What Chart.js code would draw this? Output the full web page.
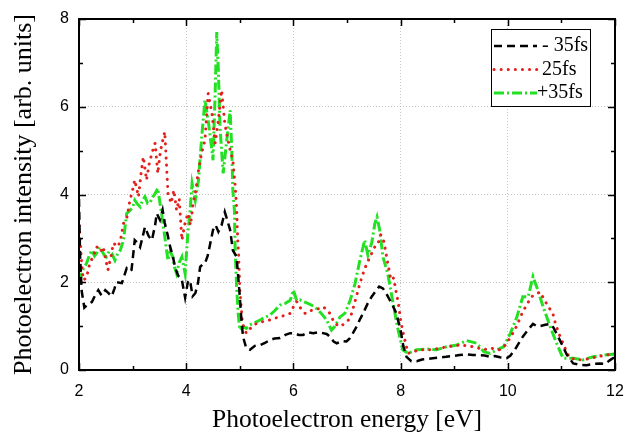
<!DOCTYPE html>
<html>
<head>
<meta charset="utf-8">
<script src="https://cdn.jsdelivr.net/npm/chart.js@4"></script>
<style>
  html, body { margin: 0; padding: 0; background: #fff; }
  #wrap { width: 625px; height: 436px; }
</style>
</head>
<body>
<div id="wrap"><canvas id="plot" width="625" height="436"></canvas></div>
<script>
// ---------- data ----------
const seriesNames = ['- 35fs', '25fs', '+35fs'];

const blackE = [2.0, 2.02, 2.05, 2.1, 2.17, 2.24, 2.3, 2.36, 2.42, 2.49, 2.55, 2.61, 2.66, 2.7, 2.8, 2.89, 2.95, 2.98, 3.04, 3.09, 3.14, 3.2, 3.23, 3.3, 3.36, 3.42, 3.45, 3.51, 3.56, 3.6, 3.65, 3.7, 3.75, 3.79, 3.85, 3.92, 3.98, 4.03, 4.07, 4.12, 4.17, 4.22, 4.26, 4.3, 4.35, 4.4, 4.45, 4.5, 4.55, 4.6, 4.66, 4.72, 4.77, 4.82, 4.87, 4.94, 4.97, 5.0, 5.03, 5.06, 5.12, 5.19, 5.28, 5.38, 5.47, 5.56, 5.65, 5.75, 5.85, 5.94, 6.0, 6.1, 6.18, 6.28, 6.37, 6.46, 6.55, 6.62, 6.68, 6.75, 6.81, 6.9, 6.99, 7.05, 7.11, 7.18, 7.24, 7.3, 7.38, 7.46, 7.55, 7.6, 7.67, 7.73, 7.8, 7.86, 7.92, 8.0, 8.05, 8.11, 8.2, 8.3, 8.4, 8.49, 8.6, 8.74, 8.85, 8.98, 9.1, 9.23, 9.35, 9.48, 9.57, 9.67, 9.76, 9.85, 9.98, 10.05, 10.13, 10.2, 10.28, 10.38, 10.47, 10.54, 10.6, 10.7, 10.79, 10.85, 10.91, 10.97, 11.03, 11.1, 11.22, 11.35, 11.47, 11.6, 11.72, 11.82, 11.9, 12.0];
const blackI = [3.9, 2.6, 1.8, 1.42, 1.5, 1.55, 1.7, 1.82, 1.7, 1.82, 1.75, 1.68, 1.85, 2.0, 1.98, 2.32, 2.25, 2.28, 2.96, 2.9, 2.8, 3.1, 3.26, 3.05, 2.96, 3.3, 3.57, 3.42, 3.65, 3.35, 3.1, 2.81, 2.6, 2.35, 2.15, 2.05, 1.65, 2.0, 2.05, 1.68, 1.75, 1.98, 2.35, 2.4, 2.43, 2.6, 2.89, 3.19, 3.3, 3.15, 3.3, 3.6, 3.4, 3.19, 2.73, 2.58, 2.13, 1.67, 1.14, 0.76, 0.5, 0.46, 0.55, 0.57, 0.62, 0.68, 0.72, 0.73, 0.8, 0.84, 0.84, 0.8, 0.8, 0.86, 0.84, 0.86, 0.84, 0.82, 0.76, 0.65, 0.61, 0.66, 0.65, 0.72, 0.84, 0.99, 1.15, 1.29, 1.5, 1.67, 1.82, 1.9, 1.86, 1.75, 1.59, 1.45, 1.29, 0.91, 0.55, 0.3, 0.2, 0.2, 0.24, 0.25, 0.27, 0.29, 0.3, 0.32, 0.34, 0.36, 0.34, 0.34, 0.33, 0.3, 0.32, 0.29, 0.27, 0.33, 0.46, 0.6, 0.76, 0.92, 1.05, 1.0, 1.0, 1.03, 1.05, 0.97, 0.83, 0.68, 0.53, 0.35, 0.15, 0.12, 0.11, 0.14, 0.15, 0.14, 0.22, 0.3];

const redE = [2.0, 2.02, 2.05, 2.08, 2.14, 2.2, 2.27, 2.33, 2.4, 2.45, 2.54, 2.6, 2.64, 2.73, 2.78, 2.83, 2.9, 2.95, 3.0, 3.04, 3.11, 3.16, 3.2, 3.26, 3.31, 3.36, 3.42, 3.47, 3.52, 3.6, 3.66, 3.72, 3.77, 3.82, 3.87, 3.92, 3.97, 4.03, 4.08, 4.13, 4.18, 4.22, 4.28, 4.35, 4.41, 4.48, 4.54, 4.6, 4.66, 4.72, 4.77, 4.82, 4.87, 4.91, 4.94, 4.96, 4.98, 5.0, 5.05, 5.12, 5.2, 5.31, 5.42, 5.56, 5.65, 5.75, 5.85, 5.94, 6.0, 6.06, 6.14, 6.22, 6.3, 6.4, 6.48, 6.55, 6.62, 6.68, 6.77, 6.87, 6.96, 7.06, 7.15, 7.24, 7.33, 7.43, 7.52, 7.57, 7.63, 7.69, 7.75, 7.82, 7.87, 7.91, 7.96, 8.0, 8.05, 8.14, 8.25, 8.36, 8.5, 8.61, 8.75, 8.86, 9.0, 9.11, 9.25, 9.36, 9.45, 9.55, 9.67, 9.76, 9.85, 9.92, 9.98, 10.05, 10.13, 10.2, 10.28, 10.36, 10.44, 10.52, 10.6, 10.66, 10.72, 10.78, 10.84, 10.88, 10.93, 10.98, 11.03, 11.1, 11.16, 11.28, 11.4, 11.53, 11.66, 11.75, 11.85, 11.96, 12.0];
const redI = [3.3, 3.0, 2.4, 2.05, 2.1, 2.43, 2.6, 2.81, 2.7, 2.81, 2.28, 2.6, 2.89, 2.81, 3.0, 3.34, 3.5, 3.87, 4.1, 4.33, 3.95, 4.5, 4.86, 4.33, 4.7, 4.94, 5.17, 4.48, 5.0, 5.43, 4.02, 3.8, 4.1, 3.64, 3.9, 2.96, 3.3, 3.57, 3.3, 3.8, 4.1, 4.48, 4.9, 5.24, 6.3, 5.85, 5.17, 5.69, 6.38, 5.62, 5.3, 5.01, 4.78, 4.25, 3.72, 3.0, 2.58, 1.82, 1.06, 0.84, 0.95, 1.06, 1.1, 1.14, 1.18, 1.21, 1.25, 1.29, 1.44, 1.56, 1.4, 1.29, 1.35, 1.37, 1.4, 1.44, 1.38, 1.29, 1.06, 0.99, 1.06, 1.18, 1.56, 1.97, 2.31, 2.58, 2.81, 2.85, 3.08, 2.92, 2.5, 2.05, 2.1, 1.82, 1.5, 1.14, 0.83, 0.38, 0.42, 0.46, 0.46, 0.47, 0.5, 0.53, 0.55, 0.57, 0.55, 0.53, 0.5, 0.46, 0.5, 0.48, 0.46, 0.52, 0.61, 0.75, 0.91, 1.1, 1.33, 1.5, 1.67, 1.72, 1.78, 1.65, 1.52, 1.4, 1.29, 1.1, 0.91, 0.75, 0.61, 0.4, 0.27, 0.24, 0.23, 0.26, 0.3, 0.32, 0.34, 0.38, 0.38];

const greenE = [2.0, 2.02, 2.07, 2.14, 2.19, 2.24, 2.29, 2.33, 2.38, 2.42, 2.47, 2.51, 2.56, 2.61, 2.67, 2.72, 2.77, 2.83, 2.89, 2.95, 3.0, 3.04, 3.09, 3.14, 3.18, 3.23, 3.28, 3.33, 3.38, 3.42, 3.47, 3.54, 3.6, 3.66, 3.7, 3.75, 3.78, 3.82, 3.87, 3.92, 3.98, 4.03, 4.07, 4.11, 4.17, 4.23, 4.29, 4.35, 4.41, 4.48, 4.5, 4.54, 4.57, 4.6, 4.63, 4.69, 4.75, 4.82, 4.85, 4.87, 4.9, 4.91, 4.94, 4.97, 5.0, 5.06, 5.12, 5.19, 5.28, 5.38, 5.47, 5.56, 5.65, 5.75, 5.85, 5.94, 6.0, 6.06, 6.12, 6.18, 6.27, 6.4, 6.52, 6.62, 6.71, 6.77, 6.87, 6.96, 7.06, 7.15, 7.24, 7.33, 7.39, 7.46, 7.52, 7.56, 7.61, 7.67, 7.76, 7.85, 7.94, 8.04, 8.14, 8.3, 8.49, 8.67, 8.86, 9.05, 9.23, 9.42, 9.55, 9.67, 9.8, 9.92, 10.05, 10.17, 10.28, 10.38, 10.47, 10.56, 10.66, 10.79, 10.91, 11.03, 11.22, 11.4, 11.59, 11.78, 11.96, 12.0];
const greenI = [2.1, 2.05, 2.28, 2.43, 2.6, 2.73, 2.6, 2.66, 2.8, 2.73, 2.62, 2.58, 2.7, 2.66, 2.5, 2.65, 2.73, 2.96, 3.57, 3.64, 3.7, 3.87, 3.78, 3.72, 3.85, 3.95, 3.8, 3.83, 3.95, 4.02, 4.14, 3.57, 3.04, 2.5, 2.7, 2.58, 2.35, 2.2, 2.45, 2.58, 2.2, 3.11, 3.6, 4.25, 3.87, 4.33, 5.32, 6.15, 5.69, 5.01, 4.78, 6.3, 7.7, 6.83, 5.54, 4.48, 5.17, 5.92, 5.01, 4.1, 3.64, 2.9, 1.9, 1.29, 0.91, 0.99, 0.95, 1.03, 1.08, 1.14, 1.2, 1.25, 1.35, 1.48, 1.52, 1.59, 1.82, 1.59, 1.6, 1.56, 1.52, 1.44, 1.29, 1.14, 0.91, 0.99, 1.21, 1.29, 1.59, 1.97, 2.5, 2.96, 2.62, 2.89, 3.34, 3.49, 3.19, 2.58, 2.2, 1.59, 0.99, 0.46, 0.38, 0.46, 0.48, 0.46, 0.53, 0.57, 0.67, 0.61, 0.42, 0.38, 0.46, 0.53, 0.84, 1.21, 1.67, 1.67, 2.13, 1.82, 1.44, 0.99, 0.61, 0.27, 0.27, 0.23, 0.3, 0.34, 0.36, 0.36];

// ---------- 스타일 ----------
const serif = '"Liberation Serif", "Times New Roman", serif';
const sans = '"Liberation Sans", Arial, sans-serif';

const lineStyles = [
  { color: '#000000', width: 2.5, dash: [8, 5], cap: 'butt' },
  { color: '#e3201b', width: 3, dash: [0.1, 7], cap: 'round' },
  { color: '#22e022', width: 3, dash: [10, 3, 2, 3], cap: 'butt' },
];

function toPoints(es, is) {
  return es.map((e, i) => ({ x: e, y: is[i] }));
}

const seriesData = [
  toPoints(blackE, blackI),
  toPoints(redE, redI),
  toPoints(greenE, greenI),
];

// 안쪽 눈금, 테두리, 범례 그리기
const framePlugin = {
  id: 'frame',
  afterDraw(chart) {
    const { ctx, chartArea: a, scales } = chart;
    const xs = scales.x;
    const ys = scales.y;
    ctx.save();
    ctx.strokeStyle = '#000';
    ctx.lineWidth = 1.5;
    for (let v = 2; v <= 12; v += 1) {
      const px = Math.round(xs.getPixelForValue(v)) + 0.5;
      const len = v % 2 === 0 ? 7 : 4;
      ctx.beginPath();
      ctx.moveTo(px, a.bottom);
      ctx.lineTo(px, a.bottom - len);
      ctx.moveTo(px, a.top);
      ctx.lineTo(px, a.top + len);
      ctx.stroke();
    }
    for (let v = 0; v <= 8; v += 1) {
      const py = Math.round(ys.getPixelForValue(v)) + 0.5;
      const len = v % 2 === 0 ? 7 : 4;
      ctx.beginPath();
      ctx.moveTo(a.left, py);
      ctx.lineTo(a.left + len, py);
      ctx.moveTo(a.right, py);
      ctx.lineTo(a.right - len, py);
      ctx.stroke();
    }
    ctx.lineWidth = 2;
    ctx.strokeRect(a.left, a.top, a.right - a.left, a.bottom - a.top);

    // 범례
    const bx = a.right - 124;
    const by = a.top + 10;
    const bw = 99;
    const bh = 77;
    ctx.fillStyle = '#fff';
    ctx.fillRect(bx, by, bw, bh);
    ctx.lineWidth = 1;
    ctx.strokeStyle = '#000';
    ctx.strokeRect(bx + 0.5, by + 0.5, bw, bh);
    ctx.font = '20px ' + serif;
    ctx.textBaseline = 'middle';
    seriesNames.forEach((name, i) => {
      const st = lineStyles[i];
      const cy = by + 17 + i * 23.5;
      ctx.save();
      ctx.strokeStyle = st.color;
      ctx.lineWidth = st.width;
      ctx.lineCap = st.cap;
      ctx.setLineDash(st.dash);
      ctx.beginPath();
      ctx.moveTo(bx + 3, cy);
      ctx.lineTo(bx + 46, cy);
      ctx.stroke();
      ctx.restore();
      ctx.fillStyle = '#000';
      ctx.fillText(name, i === 2 ? bx + 46 : bx + 51, cy);
    });
    ctx.restore();
  },
};

const config = {
  type: 'line',
  data: {
    datasets: seriesData.map((pts, i) => ({
      label: seriesNames[i],
      data: pts,
      borderColor: lineStyles[i].color,
      borderWidth: lineStyles[i].width,
      borderDash: lineStyles[i].dash,
      borderCapStyle: lineStyles[i].cap,
      pointRadius: 0,
      tension: 0,
      fill: false,
    })),
  },
  options: {
    responsive: false,
    animation: false,
    layout: { padding: { top: 19, right: 10, left: 0, bottom: 0 } },
    plugins: {
      legend: { display: false },
      title: { display: false },
      tooltip: { enabled: false },
    },
    scales: {
      x: {
        type: 'linear',
        min: 2,
        max: 12,
        ticks: {
          stepSize: 2,
          color: '#000',
          font: { family: sans, size: 16 },
          padding: 12,
          maxRotation: 0,
        },
        grid: { color: '#c4c4c4', lineWidth: 1, drawTicks: false },
        border: { display: false, dash: [1, 2] },
        title: {
          display: true,
          text: 'Photoelectron energy [eV]',
          color: '#000',
          font: { family: serif, size: 25.5 },
          padding: { top: 9, bottom: 0 },
        },
        afterFit(scale) {
          scale.height = 66;
          scale.paddingRight = 0;
          scale.paddingLeft = 0;
        },
      },
      y: {
        min: 0,
        max: 8,
        ticks: {
          stepSize: 2,
          color: '#000',
          font: { family: sans, size: 16 },
          padding: 10,
        },
        grid: { color: '#c4c4c4', lineWidth: 1, drawTicks: false },
        border: { display: false, dash: [1, 2] },
        title: {
          display: true,
          text: 'Photoelectron intensity [arb. units]',
          color: '#000',
          font: { family: serif, size: 26 },
          padding: { top: 9, bottom: 0 },
        },
        afterFit(scale) {
          scale.width = 79;
          scale.paddingTop = 0;
          scale.paddingBottom = 0;
        },
      },
    },
  },
  plugins: [framePlugin],
};

new Chart(document.getElementById('plot'), config);
</script>
</body>
</html>
